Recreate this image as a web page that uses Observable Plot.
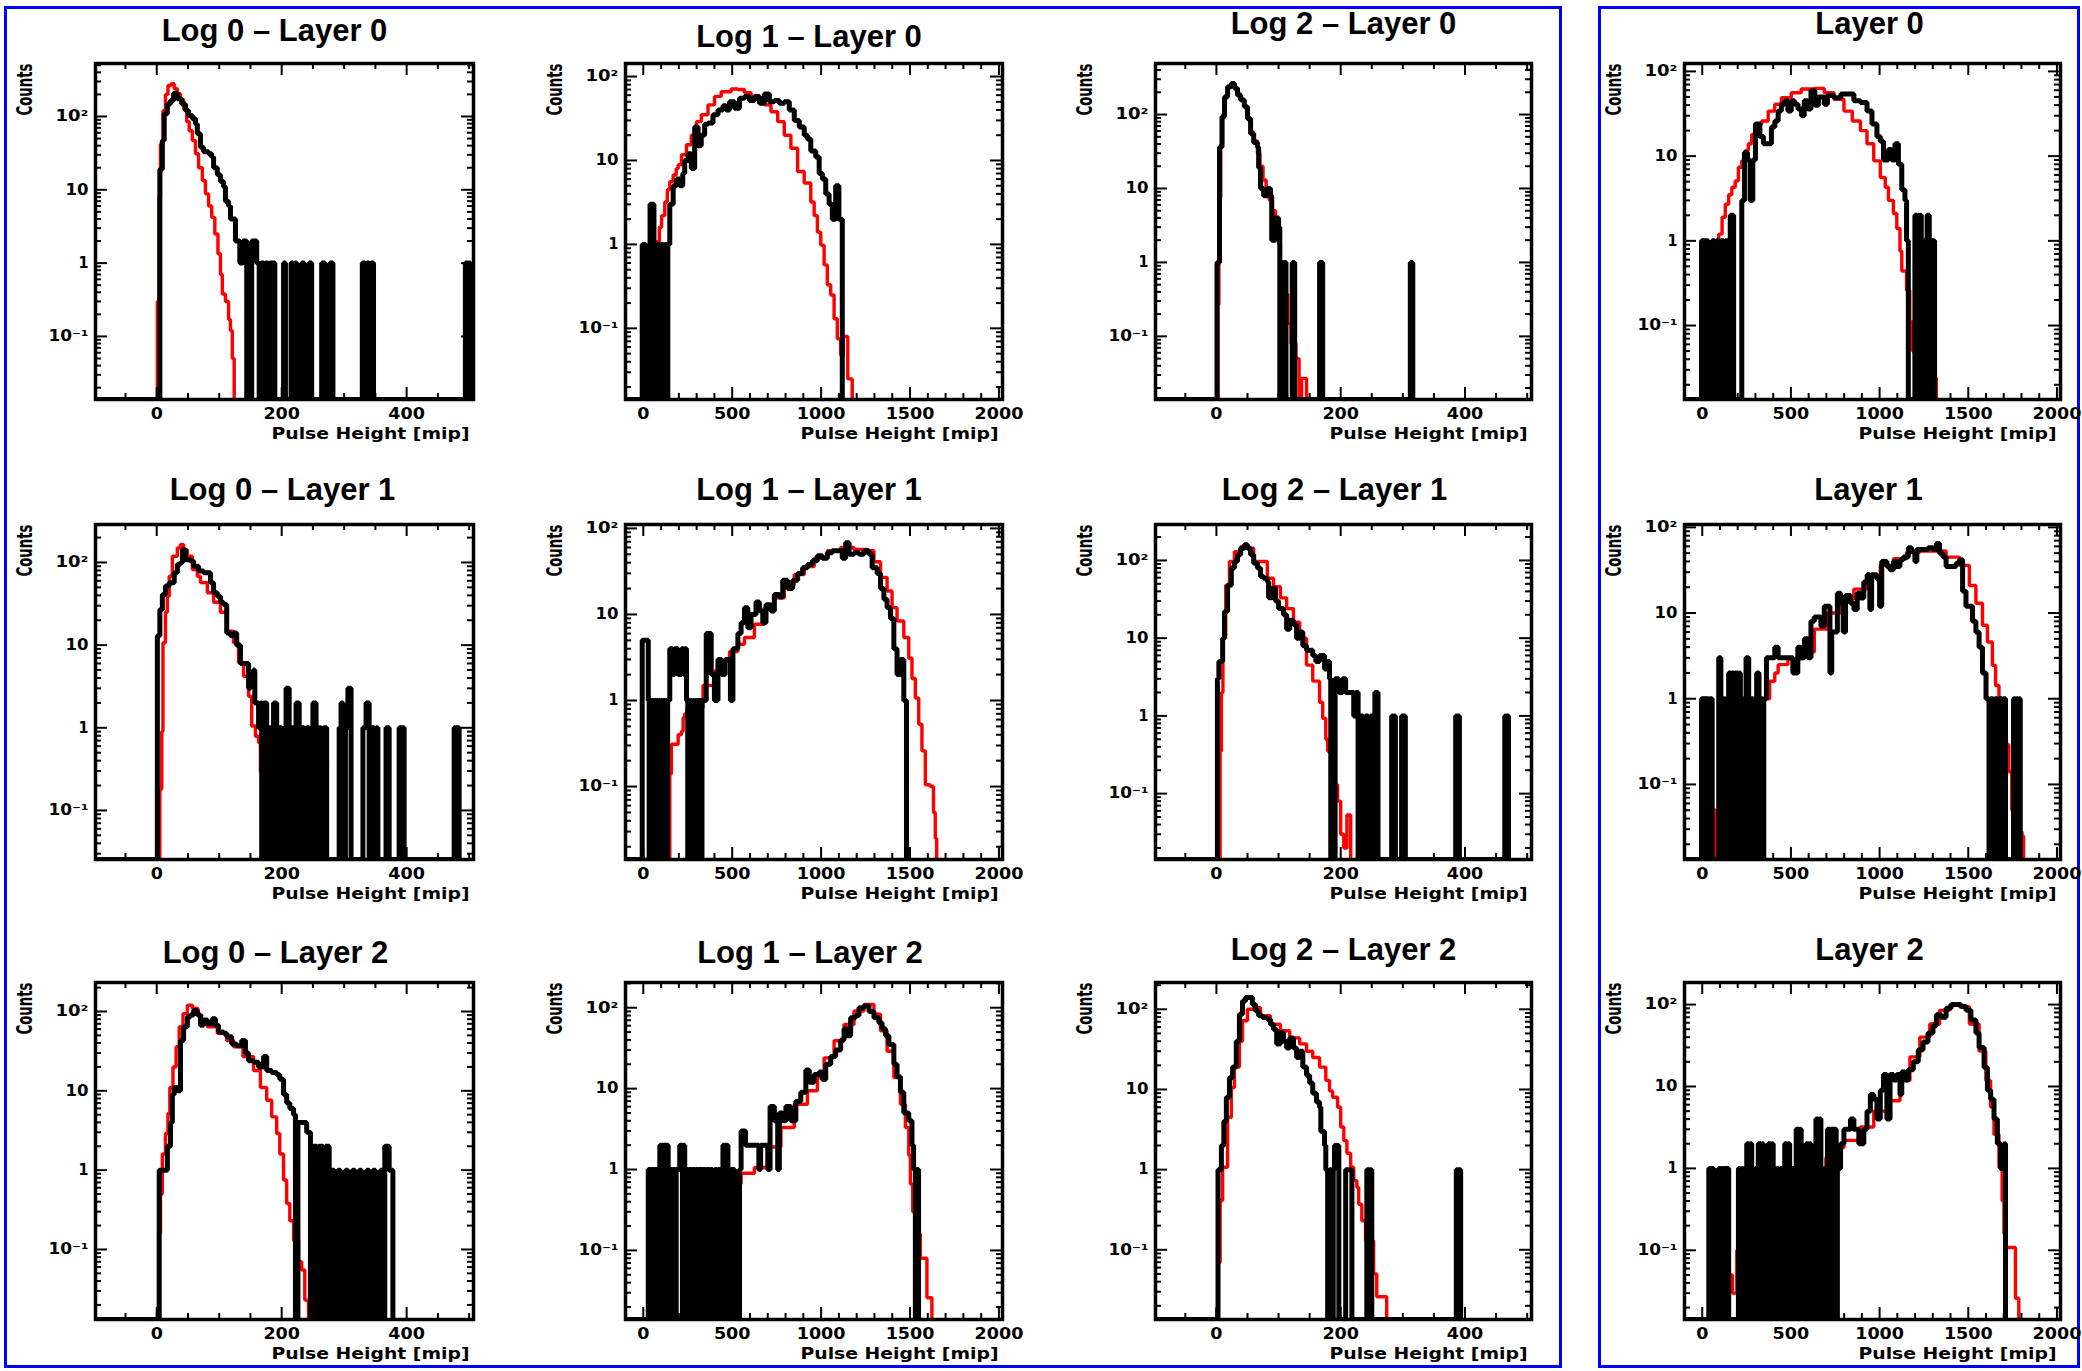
<!DOCTYPE html>
<html><head><meta charset="utf-8">
<script src="https://cdn.jsdelivr.net/npm/d3@7"></script>
<script src="https://cdn.jsdelivr.net/npm/@observablehq/plot@0.6"></script>
<style>
html,body{margin:0;padding:0;background:#fff;overflow:hidden;}
#page{position:relative;width:2082px;height:1371px;overflow:hidden;background:#fff;}
.box{position:absolute;border:3px solid #0000ff;box-sizing:border-box;}
.panel{position:absolute;}
</style></head><body><div id="page">
<div class="box" style="left:4px;top:6px;width:1558px;height:1362px"></div>
<div class="box" style="left:1598px;top:6px;width:482px;height:1362px"></div>
</div>
<script>
// ---- tick labels & titles ----
const xLabelsLow = [0, 200, 400];
const xLabelsHigh = [0, 500, 1000, 1500, 2000];
const yLabelText = {0.1: "10⁻¹", 1: "1", 10: "10", 100: "10²"};
const titles = ["Log 0 – Layer 0", "Log 1 – Layer 0", "Log 2 – Layer 0", "Layer 0",
                "Log 0 – Layer 1", "Log 1 – Layer 1", "Log 2 – Layer 1", "Layer 1",
                "Log 0 – Layer 2", "Log 1 – Layer 2", "Log 2 – Layer 2", "Layer 2"];
const xTitle = "Pulse Height [mip]";
const yTitle = "Counts";

// ---- histograms: [bin low edge, counts]; each value holds until the next edge ----
// black = data, red = simulation
const log0Layer0Data = [[5,19],[9,47],[12,109],[17,148],[22,165],[27,208],[33,174],[40,148],[46,121],[51,103],[57,93],[62,79],[65,58],[70,38],[75,33],[83,31],[88,28],[91,20],[97,16],[102,13],[107,11],[110,7],[115,6],[118,4],[123,4],[126,2],[133,1],[138,2],[144,0],[152,2],[160,1],[164,0],[167,1],[171,0],[174,1],[178,0],[181,1],[189,0],[203,1],[206,0],[215,1],[218,0],[221,1],[224,0],[232,1],[236,0],[244,1],[248,0],[264,1],[269,0],[277,1],[282,0],[329,1],[333,0],[336,1],[340,0],[343,1],[347,0],[494,1],[502,0]];
const log0Layer0Sim = [[1,0.3],[3.5,8],[6,42],[10,120],[14,200],[18,265],[23,280],[28,239],[33,204],[38,170],[43,125],[48,85],[52,64],[57,47],[62,31],[67,20],[73,13.4],[78,8.8],[83,6],[88,4.2],[93,2.5],[98,1.34],[102,0.7],[105,0.38],[110,0.3],[115,0.17],[118,0.12],[121,0.05],[124,0]];

const log1Layer0Data = [[-6,1],[14,0],[38,3],[60,0],[78,1],[92,0],[100,1],[112,0],[120,1],[132,0],[138,1],[149,3],[168,5],[187,6],[205,5],[222,7],[233,10],[252,12],[270,8],[289,25],[308,15],[326,20],[345,27],[364,28],[392,35],[420,40],[448,45],[466,40],[485,50],[513,42],[541,55],[569,58],[597,52],[625,58],[653,48],[681,62],[709,50],[737,52],[765,48],[793,50],[821,40],[849,30],[877,25],[905,20],[923,18],[942,13],[970,11],[989,7],[1007,6],[1026,4],[1045,3],[1063,2],[1082,5],[1100,2],[1119,0]];
const log1Layer0Sim = [[62,0.21],[70,0.75],[75,1.08],[90,1.6],[103,2.2],[121,3.2],[135,4.5],[149,5.6],[168,6.7],[185,8],[196,8.9],[215,11.7],[243,15.4],[270,20],[299,29],[326,35],[364,46],[401,58],[438,66],[494,71],[532,70],[569,64],[606,58],[644,53],[681,46],[718,38],[756,29],[793,20],[830,14],[868,7.4],[905,5.4],[942,3.2],[961,2.2],[979,1.4],[998,0.98],[1017,0.57],[1035,0.33],[1054,0.25],[1073,0.13],[1091,0.075],[1110,0.048],[1125,0.08],[1150,0.025],[1175,0]];

const log2Layer0Data = [[1,1],[5,36],[9,93],[13,173],[18,237],[24,263],[29,226],[34,183],[39,157],[45,127],[50,88],[55,55],[60,42],[66,36],[68,19],[71,10],[76,8],[82,10],[87,8],[89,2],[95,4],[100,3],[102,0],[104,1],[107,0],[109,1],[112,0],[122,1],[126,0],[166,1],[171,0],[312,1],[316,0]];
const log2Layer0Sim = [[2.5,0.27],[4,7.6],[7,40],[10,100],[14,180],[19,240],[24,260],[29,230],[34,190],[39,160],[45,125],[50,90],[55,58],[60,44],[66,30],[70,20],[75,13],[80,10],[85,7],[90,5],[95,3.5],[100,1.8],[103,0.8],[106,0.6],[110,0.37],[115,0.15],[120,0.08],[128,0.05],[133,0.015],[137,0.027],[145,0]];

const layer0Data = [[-4,1],[10,0],[15,1],[33,0],[56,1],[70,0],[80,1],[95,0],[105,1],[120,0],[130,1],[145,0],[158,2],[177,0],[223,3],[238,11],[255,9],[270,3],[285,9],[300,24],[325,17],[345,14],[370,14],[390,22],[409,26],[428,34],[446,41],[465,45],[483,34],[502,45],[520,41],[540,36],[560,30],[575,45],[595,36],[613,59],[635,40],[655,50],[688,41],[706,52],[743,49],[781,54],[818,54],[855,45],[892,43],[929,34],[957,24],[985,17],[1004,15],[1022,9],[1050,12],[1068,9],[1087,14],[1106,8],[1125,4],[1143,3],[1152,1],[1162,0],[1199,2],[1210,0],[1220,2],[1235,0],[1245,1],[1258,0],[1268,2],[1280,0],[1290,1],[1310,0]];
const layer0Sim = [[37,0.027],[44,0.21],[60,0.6],[80,1],[93,1.2],[112,1.9],[130,2.7],[149,3.5],[167,4.3],[186,5.1],[204,7.4],[223,8.8],[242,11.6],[260,14],[279,18],[297,24],[335,26],[372,34],[409,41],[446,49],[502,56],[558,62],[632,63],[688,56],[743,47],[799,34],[846,26],[892,20],[929,14],[967,8.8],[1004,5.6],[1032,4.3],[1050,3],[1078,2.1],[1097,1.4],[1115,0.76],[1125,0.44],[1152,0.26],[1170,0.11],[1185,0.05],[1200,0.03],[1310,0.024],[1320,0]];

const log0Layer1Data = [[1,13],[5,27],[9,41],[14,52],[20,57],[28,75],[33,95],[38,99],[41,143],[46,108],[54,104],[59,90],[67,79],[75,75],[86,57],[91,43],[97,39],[102,33],[107,31],[112,14],[118,13],[123,14],[128,10],[134,6],[139,6],[144,6],[147,3],[150,4],[155,5],[157,2],[163,1],[166,2],[168,0],[171,2],[176,0],[180,1],[184,0],[187,2],[192,0],[196,1],[200,0],[204,1],[207,3],[212,0],[216,1],[220,0],[223,2],[228,0],[232,1],[236,0],[240,1],[244,0],[247,1],[250,2],[255,0],[259,1],[263,0],[267,1],[272,0],[292,1],[295,2],[298,0],[302,1],[306,3],[311,0],[330,1],[335,2],[340,0],[344,1],[348,0],[351,1],[354,0],[367,1],[372,0],[388,1],[396,0],[476,1],[484,0]];
const log0Layer1Sim = [[5,0.18],[8,0.9],[10,10.7],[14,25],[17,39],[20,68],[25,119],[33,150],[38,165],[43,143],[49,119],[57,82],[65,68],[70,57],[81,43],[91,33],[102,25],[112,14.7],[123,10.7],[131,6.1],[139,4.2],[147,2.4],[152,1.05],[158,0.79],[163,0.66],[166,0.29],[170,0.1],[176,0]];

const log1Layer1Data = [[-6,5],[28,1],[33,0],[38,1],[45,0],[50,1],[57,0],[62,1],[70,0],[75,1],[82,0],[87,1],[95,0],[100,1],[108,0],[113,1],[120,0],[125,1],[132,0],[137,1],[149,4],[165,2],[175,4],[196,2],[215,4],[228,2],[235,4],[243,1],[250,0],[255,1],[262,0],[267,1],[275,0],[280,1],[288,0],[293,1],[300,0],[305,1],[312,0],[317,1],[324,0],[330,1],[354,6],[382,2],[400,1],[420,3],[440,2],[460,3],[490,1],[504,4],[520,4],[532,6],[550,8],[569,12],[588,7],[606,10],[634,14],[653,11],[672,8],[690,13],[718,11],[737,17],[765,16],[784,25],[811,20],[840,25],[868,30],[896,35],[924,38],[951,42],[979,48],[1007,45],[1035,52],[1063,55],[1091,55],[1119,45],[1138,68],[1157,50],[1185,52],[1213,50],[1241,55],[1269,50],[1287,35],[1315,30],[1334,20],[1353,15],[1371,12],[1390,9],[1409,4],[1427,2],[1446,3],[1465,1],[1480,0]];
const log1Layer1Sim = [[149,0.14],[158,0.31],[196,0.4],[215,0.44],[224,0.63],[233,0.7],[245,0.8],[317,0.82],[336,1.5],[401,2.2],[438,2.9],[485,3.7],[532,4.5],[569,5.4],[625,7.7],[681,12],[737,15.6],[793,22],[849,29],[905,36],[961,45],[1035,55],[1110,60],[1185,57],[1259,55],[1297,41],[1334,27],[1371,18.7],[1399,12],[1427,8.4],[1465,5.4],[1493,3.1],[1511,1.8],[1530,1.07],[1549,0.53],[1567,0.26],[1586,0.105],[1614,0.1],[1632,0.05],[1642,0.025],[1650,0]];

const log2Layer1Data = [[1.6,3],[4,5],[10,10],[13,22],[18,48],[24,80],[29,97],[34,118],[39,144],[45,159],[50,144],[55,118],[60,92],[66,80],[71,62],[76,59],[82,53],[84,33],[89,44],[95,30],[100,24],[108,20],[113,13],[118,17],[124,15],[129,10],[134,12],[139,8],[145,7],[150,7],[155,6],[160,5],[166,6],[174,4],[179,5],[182,3],[184,0],[191,3],[197,2],[203,3],[208,2],[216,2],[221,1],[224,2],[228,0],[232,1],[236,0],[240,1],[244,0],[248,1],[252,0],[255,2],[260,0],[282,1],[288,0],[298,1],[304,0],[385,1],[391,0],[464,1],[470,0]];
const log2Layer1Sim = [[6,0.35],[8,2],[10.5,10],[15,48],[21,97],[29,130],[39,150],[47,144],[60,97],[82,59],[92,46],[103,33],[113,24],[124,16],[134,10],[145,4.5],[155,2.8],[166,1.5],[171,0.93],[176,0.5],[179,0.35],[184,0.2],[189,0.13],[195,0.08],[200,0.03],[205,0.02],[210,0.053],[216,0]];

const layer1Data = [[-4,1],[8,0],[12,1],[24,0],[28,1],[35,0],[42,1],[56,0],[93,3],[105,0],[110,1],[120,0],[125,1],[130,0],[149,2],[160,0],[167,2],[180,0],[187,2],[200,0],[207,2],[215,0],[220,1],[230,0],[235,1],[247,3],[262,0],[268,1],[285,0],[292,1],[307,2],[320,0],[326,1],[340,0],[347,1],[362,3],[409,4],[428,3],[446,3],[483,3],[511,2],[539,4],[557,3],[576,5],[595,3],[613,8],[632,9],[651,9],[669,7],[688,12],[706,12],[720,2],[730,6],[743,6],[762,17],[781,13],[795,6],[808,16],[836,13],[855,11],[874,17],[892,15],[911,23],[930,28],[945,11],[955,28],[985,25],[1000,12],[1012,40],[1041,35],[1059,32],[1078,40],[1097,35],[1115,42],[1134,45],[1162,58],[1180,52],[1199,40],[1210,55],[1245,55],[1273,58],[1301,55],[1320,65],[1338,50],[1357,45],[1375,35],[1403,35],[1431,38],[1450,42],[1468,18],[1487,12],[1506,12],[1524,8],[1543,6],[1561,4],[1580,2],[1600,1],[1617,0],[1625,1],[1640,0],[1650,1],[1665,0],[1675,1],[1690,0],[1697,1],[1710,0],[1755,1],[1765,0],[1772,1],[1780,0],[1786,1],[1793,0]];
const layer1Sim = [[65,0.05],[78,0],[139,0.24],[149,0.5],[200,0.6],[307,0.64],[340,1],[380,1.6],[409,2],[428,2.5],[483,2.9],[558,3.5],[632,6.5],[706,10],[781,14.6],[855,19],[929,27],[1004,36],[1078,43],[1152,51],[1227,53],[1301,53],[1375,45],[1450,36],[1506,21],[1543,13],[1580,7.2],[1608,4.6],[1636,2.45],[1654,1.43],[1673,0.7],[1690,0.4],[1710,0.29],[1729,0.14],[1745,0.05],[1757,0.028],[1803,0.025],[1812,0]];

const log0Layer2Data = [[4,1],[17,2],[22,4],[25,9],[28,11],[33,10],[38,43],[43,64],[49,86],[54,90],[59,103],[65,90],[70,67],[75,78],[81,70],[89,81],[94,67],[99,55],[107,53],[112,48],[120,39],[128,37],[136,43],[142,30],[147,24],[155,23],[163,20],[171,27],[176,18],[184,17],[192,16],[197,14],[203,9],[208,7],[213,6],[219,5],[222,0],[226,4],[232,4],[240,3],[246,0],[249,2],[256,0],[259,2],[266,0],[270,2],[276,0],[280,1],[284,0],[290,1],[294,0],[302,1],[306,0],[313,1],[317,0],[324,1],[328,0],[336,1],[340,0],[346,1],[350,0],[358,1],[362,0],[365,2],[372,1],[378,0]];
const log0Layer2Sim = [[1,0.016],[3,0.16],[6,0.5],[9,1.6],[14,2.9],[18,5.2],[21,11],[26,20],[31,36],[36,64],[42,94],[49,120],[57,109],[66,90],[72,75],[81,64],[97,53],[112,43],[123,36],[138,27],[155,18],[166,11],[176,7.6],[184,4.7],[192,2.9],[197,1.6],[203,0.75],[208,0.38],[213,0.23],[219,0.13],[227,0.07],[232,0.055],[237,0.023],[243,0]];

const log1Layer2Data = [[28,1],[40,0],[45,1],[60,0],[65,1],[80,0],[93,2],[110,0],[115,2],[140,0],[145,1],[160,0],[165,1],[180,0],[185,1],[205,2],[220,0],[225,2],[233,1],[250,0],[255,1],[270,0],[275,1],[290,0],[295,1],[310,0],[315,1],[330,0],[335,1],[350,0],[355,1],[370,0],[375,1],[390,0],[402,1],[415,0],[420,1],[435,0],[448,2],[465,0],[470,2],[476,1],[490,0],[495,1],[513,0],[541,1],[550,3],[575,2],[597,2],[625,2],[650,1],[660,2],[681,2],[700,1],[713,6],[737,4],[756,1],[765,5],[784,4],[802,6],[830,4],[858,7],[886,9],[914,17],[933,12],[961,15],[989,16],[1007,13],[1026,20],[1054,25],[1082,30],[1110,40],[1129,55],[1147,45],[1166,75],[1194,80],[1213,100],[1241,105],[1269,90],[1297,75],[1325,65],[1343,55],[1362,45],[1381,35],[1409,20],[1427,14],[1446,9],[1465,5],[1493,4],[1511,2],[1520,1],[1530,0],[1538,1],[1548,0]];
const log1Layer2Sim = [[140,0.028],[150,0],[390,0.2],[400,0.4],[410,0],[500,0.6],[513,0.66],[550,0.9],[625,1.06],[700,1.9],[774,3.3],[849,6.4],[923,9.4],[979,13.7],[1017,24],[1073,39],[1129,62],[1185,91],[1241,110],[1297,83],[1334,52],[1371,29],[1409,13.7],[1446,6.4],[1474,3.3],[1493,1.5],[1502,0.66],[1515,0.3],[1530,0.16],[1558,0.08],[1586,0.08],[1595,0.026],[1623,0]];

const log2Layer2Data = [[2.6,1],[8,2],[12,4],[16,8],[21,14],[26,19],[32,40],[37,87],[42,127],[47,140],[53,140],[58,115],[63,95],[68,83],[74,79],[82,75],[87,65],[92,56],[97,37],[103,51],[108,40],[113,33],[118,44],[124,33],[129,25],[134,30],[139,19],[145,15],[150,12],[155,9],[161,7],[166,6],[168,3],[174,2],[176,1],[179,0],[182,1],[185,0],[188,1],[190,2],[197,0],[208,1],[218,0],[242,1],[250,0],[386,1],[393,0]];
const log2Layer2Sim = [[1,0.018],[2.6,0.07],[6,0.41],[10,1.07],[18,4.5],[24,10.6],[29,19],[37,40],[42,72],[50,100],[60,105],[71,83],[87,65],[103,54],[118,44],[134,37],[145,30],[155,25],[166,19],[176,13],[182,9.6],[187,8],[195,6],[200,3.4],[205,2.3],[210,1.6],[216,1.07],[221,0.73],[226,0.6],[229,0.37],[234,0.23],[240,0.13],[253,0.05],[258,0.026],[274,0]];

const layer2Data = [[37,1],[44,0],[48,1],[56,0],[59,1],[65,0],[93,1],[100,0],[104,1],[113,0],[120,1],[128,0],[132,1],[140,0],[143,1],[149,0],[204,1],[214,0],[222,1],[232,0],[240,1],[251,2],[265,0],[272,2],[279,1],[290,0],[300,1],[310,0],[316,2],[330,0],[337,2],[344,1],[355,0],[362,1],[372,2],[386,0],[393,2],[400,1],[412,0],[420,1],[430,0],[440,1],[450,0],[456,1],[465,2],[479,0],[486,2],[493,1],[505,0],[512,1],[520,0],[530,3],[544,0],[551,3],[558,1],[570,0],[576,1],[586,2],[600,0],[606,2],[613,1],[625,0],[632,1],[641,4],[655,0],[662,4],[669,1],[680,0],[688,1],[698,0],[706,3],[720,0],[728,3],[740,0],[745,3],[755,0],[762,1],[780,2],[799,3],[836,4],[855,3],[883,2],[911,3],[929,5],[948,8],[967,7],[985,4],[1004,9],[1022,14],[1041,4],[1059,14],[1078,12],[1097,14],[1115,8],[1125,15],[1143,12],[1162,16],[1190,20],[1218,28],[1245,35],[1273,45],[1301,55],[1320,75],[1348,70],[1375,90],[1403,100],[1431,100],[1459,95],[1487,85],[1515,65],[1543,45],[1561,30],[1589,17],[1608,9],[1626,7],[1645,4],[1664,2],[1682,1],[1701,2],[1710,0]];
const layer2Sim = [[74,0.08],[93,0],[149,0.05],[170,0.03],[195,0.1],[210,0.15],[300,0.2],[353,0.2],[400,0.3],[446,0.3],[500,0.5],[600,0.9],[697,1.35],[750,1.8],[799,2.2],[892,3.2],[967,5],[1041,6.7],[1115,11.8],[1171,23],[1227,40],[1283,58],[1338,85],[1394,98],[1450,94],[1506,58],[1561,27],[1599,11.8],[1626,5.6],[1645,2.6],[1673,1.03],[1691,0.4],[1701,0.16],[1710,0.108],[1757,0.108],[1766,0.026],[1785,0]];

// ---- y ranges of each pad ----
const yRanges = [[0.0138,528],[0.0142,143],[0.014,490],[0.0134,124],
                 [0.0255,288],[0.0142,111],[0.0142,290],[0.0133,108],
                 [0.0131,232],[0.014,205],[0.0135,216],[0.0143,186]];
const dataSets = [log0Layer0Data, log1Layer0Data, log2Layer0Data, layer0Data,
                  log0Layer1Data, log1Layer1Data, log2Layer1Data, layer1Data,
                  log0Layer2Data, log1Layer2Data, log2Layer2Data, layer2Data];
const simSets = [log0Layer0Sim, log1Layer0Sim, log2Layer0Sim, layer0Sim,
                 log0Layer1Sim, log1Layer1Sim, log2Layer1Sim, layer1Sim,
                 log0Layer2Sim, log1Layer2Sim, log2Layer2Sim, layer2Sim];

// ---- layout ----
const colL = [95, 625, 1155, 1684], colR = [473, 1002, 1531, 2060];
const rowT = [63, 524, 982], rowB = [399, 859, 1319];
const xDomains = [[-98, 507], [-100, 2020], [-98, 507], [-100, 2020]];
const titleDx = [-10, -5, 0, -3, -2, -5, -9, -4, -9, -4, 0, -3];
const titleDy = [-23, -17, -30, -30, -25, -25, -25, -25, -20, -20, -23, -23];

const page = document.getElementById("page");
const tickFont = "DejaVu Sans, Verdana, sans-serif";
const titleFont = "Liberation Sans, Arial, Helvetica, sans-serif";
const narrowFont = "Liberation Sans Narrow, DejaVu Sans Condensed, Arial Narrow, sans-serif";
const xTickStrings = new Set([...xLabelsLow, ...xLabelsHigh].map(String));
const yTickLen = {"10⁻¹": 40, "1": 10, "10": 23, "10²": 33};

for (let i = 0; i < 12; i++) {
  const col = i % 4, row = Math.floor(i / 4);
  const ml = 90, mr = 30, mt = 60, mb = 50;
  const fw = colR[col] - colL[col], fh = rowB[row] - rowT[row];
  const [y0, y1] = yRanges[i];
  const xd = xDomains[col];
  const hi = col % 2 === 1;
  const xMaj = hi ? xLabelsHigh : xLabelsLow;
  const xMin = (hi ? d3.range(-100, 2001, 100) : d3.range(-50, 501, 50)).filter(v => !xMaj.includes(v));
  const yAll = [];
  for (let e = -2; e <= 2; e++) for (let k = 1; k <= 9; k++) { const v = +(k * 10 ** e).toPrecision(3); if (v >= y0 && v <= y1) yAll.push(v); }
  const yMaj = yAll.filter(v => Number.isInteger(Math.round(Math.log10(v) * 1e6) / 1e6));
  const yMin = yAll.filter(v => !yMaj.includes(v));
  const withStart = arr => [[xd[0], 0], ...arr];
  const Y = d => Math.max(d[1], y0);
  const T = 12, t = 6;
  const svg = Plot.plot({
    width: fw + ml + mr, height: fh + mt + mb,
    marginLeft: ml, marginRight: mr, marginTop: mt, marginBottom: mb,
    x: {type: "linear", domain: xd, axis: null},
    y: {type: "log", domain: [y0, y1], axis: null},
    style: {background: "transparent", overflow: "visible", maxWidth: "none"},
    marks: [
      Plot.line(withStart(simSets[i]), {x: d => d[0], y: Y, curve: "step-after", stroke: "#ff0000", strokeWidth: 3.4, strokeLinejoin: "miter", strokeLinecap: "butt", clip: true}),
      Plot.line(withStart(dataSets[i]), {x: d => d[0], y: Y, curve: "step-after", stroke: "#000000", strokeWidth: 5, strokeLinejoin: "miter", strokeLinecap: "butt", clip: true}),
      Plot.ruleX(xMaj, {x: d => d, insetTop: fh - T, strokeWidth: 2}),
      Plot.ruleX(xMaj, {x: d => d, insetBottom: fh - T, strokeWidth: 2}),
      Plot.ruleX(xMin, {x: d => d, insetTop: fh - t, strokeWidth: 2}),
      Plot.ruleX(xMin, {x: d => d, insetBottom: fh - t, strokeWidth: 2}),
      Plot.ruleY(yMaj, {y: d => d, insetRight: fw - T, strokeWidth: 2}),
      Plot.ruleY(yMaj, {y: d => d, insetLeft: fw - T, strokeWidth: 2}),
      Plot.ruleY(yMin, {y: d => d, insetRight: fw - t, strokeWidth: 2}),
      Plot.ruleY(yMin, {y: d => d, insetLeft: fw - t, strokeWidth: 2}),
      Plot.frame({stroke: "#000", strokeWidth: 3.5}),
      Plot.text(xMaj, {x: d => d, frameAnchor: "bottom", dy: 9, lineAnchor: "top", text: d => String(d), fontFamily: tickFont, fontSize: 15, fontWeight: "bold", fill: "#000"}),
      Plot.text(yMaj, {y: d => d, frameAnchor: "left", dx: -7, textAnchor: "end", text: d => yLabelText[d], fontFamily: tickFont, fontSize: 15, fontWeight: "bold", fill: "#000"}),
      Plot.text([xTitle], {text: d => d, frameAnchor: "bottom-right", dx: -4, dy: 39, textAnchor: "end", lineAnchor: "bottom", fontFamily: tickFont, fontSize: 15, fontWeight: "bold", fill: "#000"}),
      Plot.text([yTitle], {text: d => d, frameAnchor: "top-left", dx: -70, rotate: -90, textAnchor: "end", lineAnchor: "middle", fontFamily: narrowFont, fontSize: 21, fontWeight: "bold", fill: "#000"}),
      Plot.text([titles[i]], {text: d => d, frameAnchor: "top", dx: titleDx[i], dy: titleDy[i], lineAnchor: "bottom", fontFamily: titleFont, fontSize: 31, fontWeight: "bold", fill: "#000"})
    ]
  });
  svg.querySelectorAll("text").forEach(el => {
    const s = el.textContent;
    let L = null;
    if (xTickStrings.has(s)) L = s.length * 12.2;
    else if (s in yTickLen) L = yTickLen[s];
    else if (s === xTitle) L = 198;
    else if (s === yTitle) L = 52;
    if (L) { el.setAttribute("textLength", L); el.setAttribute("lengthAdjust", "spacingAndGlyphs"); }
  });
  const div = document.createElement("div");
  div.className = "panel";
  div.style.left = (colL[col] - ml) + "px";
  div.style.top = (rowT[row] - mt) + "px";
  div.appendChild(svg);
  page.appendChild(div);
}
</script></body></html>
